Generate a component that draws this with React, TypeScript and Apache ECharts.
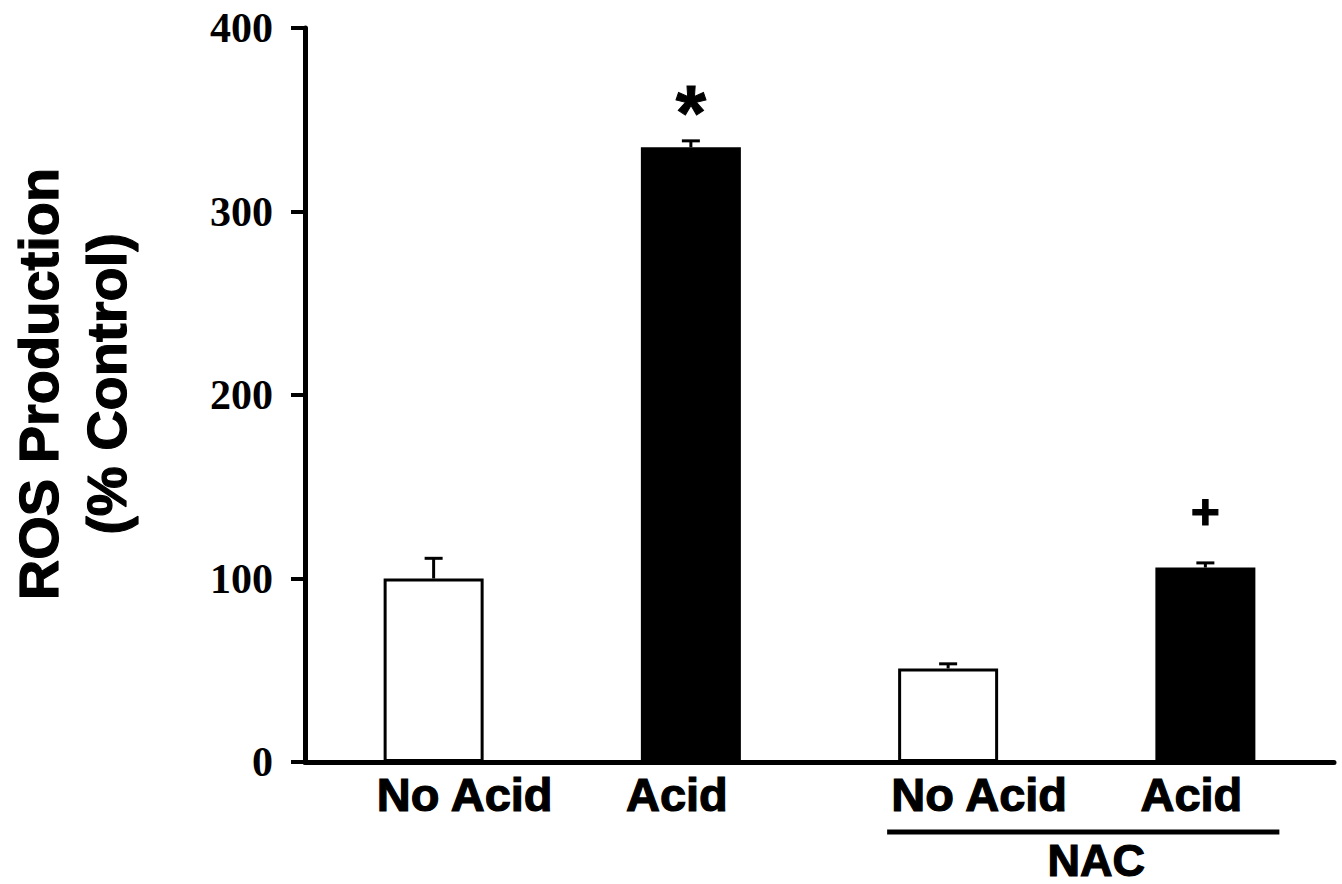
import { useEffect, useRef } from "react";
import * as echarts from "echarts";

// ---- data ----
const categories = ["No Acid", "Acid", "No Acid", "Acid"];
const acidTreated = [false, true, false, true];
const rosMeans = [100, 335, 51, 106];
const rosErrors = [11, 3.5, 2.5, 2.5];
const significance = ["", "*", "", "+"];
const yTicks = [0, 100, 200, 300, 400];
const groupLabel = "NAC";
const groupMembers = [2, 3];
const yTitle = ["ROS Production", "(% Control)"];

// ---- styles ----
const SANS = "'Liberation Sans', Arial, sans-serif";
const SERIF = "'Liberation Serif', 'Times New Roman', serif";
const markStyle: Record<string, { fontSize: number; offset: number }> = {
  "*": { fontSize: 78, offset: 28 },
  "+": { fontSize: 50, offset: 51 },
};
const heavyLabel = { textBorderColor: "#000", textBorderWidth: 1.2 };
const heavyGraphic = { stroke: "#000", lineWidth: 1.2 };

export default function App() {
  const ref = useRef<HTMLDivElement>(null);

  useEffect(() => {
    document.body.style.margin = "0";
    const chart = echarts.init(ref.current!, null, { renderer: "svg" });

    const labelBase = {
      color: "#000",
      fontFamily: SANS,
      fontWeight: "bold",
      fontSize: 47,
      lineHeight: 47,
      ...heavyLabel,
    };

    const option: any = {
      animation: false,
      backgroundColor: "#ffffff",
      grid: { left: 305, right: 8, top: 28, bottom: 122 },
      xAxis: {
        type: "category",
        data: categories,
        axisLine: { show: true, lineStyle: { color: "#000", width: 5 } },
        axisTick: { show: false },
        splitLine: { show: false },
        axisLabel: {
          ...labelBase,
          margin: 9,
          interval: 0,
          formatter: (v: string) => (v === "No Acid" ? `{r|${v}}` : `{l|${v}}`),
          rich: {
            r: { ...labelBase, padding: [0, 0, 0, 62] },
            l: { ...labelBase, padding: [0, 28, 0, 0] },
          },
        },
      },
      yAxis: {
        type: "value",
        min: yTicks[0],
        max: yTicks[yTicks.length - 1],
        interval: yTicks[1] - yTicks[0],
        axisLine: { show: true, lineStyle: { color: "#000", width: 5 } },
        axisTick: { show: true, length: 14, lineStyle: { color: "#000", width: 4 } },
        splitLine: { show: false },
        axisLabel: {
          color: "#000",
          fontFamily: SERIF,
          fontWeight: "bold",
          fontSize: 42,
          margin: 32,
        },
      },
      series: [
        {
          type: "bar",
          data: rosMeans.map((v, i) => ({
            value: v,
            itemStyle: { color: acidTreated[i] ? "#000" : "#fff" },
          })),
          barWidth: 100,
          itemStyle: { borderColor: "#000", borderWidth: 3 },
          z: 2,
        },
        {
          type: "custom",
          data: rosMeans.map((m, i) => [i, m, m + rosErrors[i]]),
          z: 3,
          renderItem: (params: any, api: any) => {
            const base = api.coord([api.value(0), api.value(1)]);
            const top = api.coord([api.value(0), api.value(2)]);
            const cap = 18;
            const children: any[] = [
              {
                type: "line",
                shape: { x1: base[0], y1: base[1], x2: top[0], y2: top[1] },
                style: { stroke: "#000", lineWidth: 3 },
              },
              {
                type: "line",
                shape: { x1: top[0] - cap / 2, y1: top[1], x2: top[0] + cap / 2, y2: top[1] },
                style: { stroke: "#000", lineWidth: 3 },
              },
            ];
            const mark = significance[params.dataIndex];
            if (mark) {
              const ms = markStyle[mark] || { fontSize: 50, offset: 45 };
              children.push({
                type: "text",
                x: top[0],
                y: top[1] - ms.offset,
                style: {
                  text: mark,
                  fill: "#000",
                  fontFamily: SANS,
                  fontWeight: "bold",
                  fontSize: ms.fontSize,
                  align: "center",
                  verticalAlign: "middle",
                  stroke: "#000",
                  lineWidth: 1,
                },
              });
            }
            return { type: "group", children };
          },
        },
      ],
    };

    chart.setOption(option);

    const p0 = chart.convertToPixel({ seriesIndex: 0 }, [groupMembers[0], 0]) as number[];
    const p1 = chart.convertToPixel({ seriesIndex: 0 }, [groupMembers[groupMembers.length - 1], 0]) as number[];
    const lineStart = p0[0] - 61;
    const lineEnd = p1[0] + 74;
    const lineY = p0[1] + 70;

    chart.setOption({
      graphic: [
        {
          type: "text",
          x: 72,
          y: 384,
          rotation: Math.PI / 2,
          style: {
            text: yTitle.join("\n"),
            fill: "#000",
            fontFamily: SANS,
            fontWeight: "bold",
            fontSize: 56,
            lineHeight: 68,
            align: "center",
            verticalAlign: "middle",
            ...heavyGraphic,
          },
        },
        {
          type: "line",
          shape: { x1: lineStart, y1: lineY, x2: lineEnd, y2: lineY },
          style: { stroke: "#000", lineWidth: 5 },
        },
        {
          type: "text",
          x: (lineStart + lineEnd) / 2 + 13,
          y: lineY + 28,
          style: {
            text: groupLabel,
            fill: "#000",
            fontFamily: SANS,
            fontWeight: "bold",
            fontSize: 45,
            align: "center",
            verticalAlign: "middle",
            ...heavyGraphic,
          },
        },
      ],
    });

    return () => chart.dispose();
  }, []);

  return <div ref={ref} style={{ width: 1342, height: 884 }} />;
}
